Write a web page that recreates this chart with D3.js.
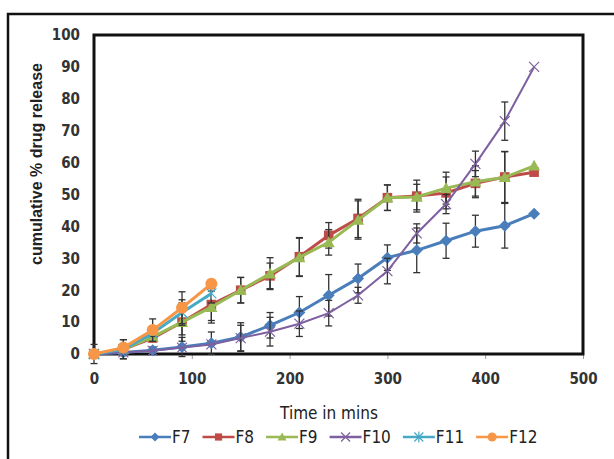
<!DOCTYPE html>
<html><head><meta charset="utf-8">
<script src="https://cdn.jsdelivr.net/npm/d3@7"></script>
<style>body{margin:0;background:#fff}svg{display:block}</style>
</head><body>
<script>
const times = [0,30,60,90,120,150,180,210,240,270,300,330,360,390,420,450];
const f7  = [0,0.5,1.2,2.2,3.4,5.3,9,13,18.4,23.7,30.2,32.5,35.5,38.5,40.2,44];
const f7e = [3,1,1,3,3.5,4.5,4,5,6.5,4.5,4,7,5.5,5,7,0];
const f8  = [0,1.5,5,10,15.5,20,24.5,30.5,37.2,42.5,49,49.5,50.5,53.5,55.5,57];
const f8e = [0,3,1,4,5,4,4,6,4,6,4,5,5,4,8,0];
const f9  = [0,1.5,5.4,10,14.7,20,25.2,30.3,35,42,49,49.2,52,54,55.4,59];
const f9e = [0,3,1,6,5,4,5,6,4,6,4,4,5,5,8,0];
const f10 = [0,0.5,1,2,3,5,7,9.5,12.8,18.4,26,37.8,47,59.6,73,90];
const f10e= [0,0,0,0,0,4,4.5,4,4,2.5,4,3,3,4,6,0];
const f11times = [0,30,60,90,120];
const f11 = [0,1.5,6.5,13,19];
const f11e= [0,1,1,4,3];
const f12 = [0,2,7.5,14.5,22];
const f12e= [0,1,3.5,5,0];
const xTicks = [0,100,200,300,400,500];
const yTicks = [0,10,20,30,40,50,60,70,80,90,100];
const seriesNames = ["F7","F8","F9","F10","F11","F12"];
const seriesColors = ["#4a7ebb","#be4b48","#98b954","#7d60a0","#46aac5","#f79646"];
const seriesMarkers = ["diamond","square","triangle","x","asterisk","circle"];

const series = [
  {name:"F7", t:times, v:f7, e:f7e},
  {name:"F8", t:times, v:f8, e:f8e},
  {name:"F9", t:times, v:f9, e:f9e},
  {name:"F10", t:times, v:f10, e:f10e},
  {name:"F11", t:f11times, v:f11, e:f11e},
  {name:"F12", t:f11times, v:f12, e:f12e}
].map((s,i)=>({...s,color:seriesColors[i],marker:seriesMarkers[i]}));

const W=614,H=459;
const svg=d3.select("body").append("svg").attr("width",W).attr("height",H);
const font='"Liberation Sans Narrow","DejaVu Sans Condensed","Liberation Sans",sans-serif';

// outer frame
svg.append("rect").attr("x",8).attr("y",14).attr("width",620).attr("height",470)
  .attr("fill","none").attr("stroke","#111").attr("stroke-width",2.5);

const x=d3.scaleLinear().domain([0,500]).range([94,583]);
const y=d3.scaleLinear().domain([0,100]).range([354,35]);

// axes
const xa=svg.append("g").attr("transform","translate(0,354)")
  .call(d3.axisBottom(x).tickValues(xTicks).tickSize(5).tickPadding(14));
xa.select(".domain").remove();
xa.selectAll("line").attr("stroke","#999");
xa.selectAll("text").attr("font-family",font).attr("font-size",15).attr("font-weight","bold").attr("fill","#333");

const ya=svg.append("g").attr("transform","translate(94,0)")
  .call(d3.axisLeft(y).tickValues(yTicks).tickSize(0).tickPadding(14));
ya.select(".domain").remove();
ya.selectAll("text").attr("font-family",font).attr("font-size",15).attr("font-weight","bold").attr("fill","#333");

// plot frame
svg.append("rect").attr("x",x(0)).attr("y",y(100)).attr("width",x(500)-x(0)).attr("height",y(0)-y(100))
  .attr("fill","none").attr("stroke","#111").attr("stroke-width",3);

// titles
svg.append("text").attr("x",329).attr("y",419).attr("text-anchor","middle")
  .attr("font-family",font).attr("font-size",17).attr("fill","#222").text("Time in mins");
svg.append("text").attr("transform","translate(42,164) rotate(-90)").attr("text-anchor","middle")
  .attr("font-family",'"Liberation Sans",Arial,sans-serif').attr("font-weight","bold")
  .attr("font-size",16).attr("fill","#222").text("cumulative % drug release");

function marker(g,type,color,size){
  const s=size;
  if(type==="diamond") g.append("path").attr("d",`M0,${-s}L${s},0L0,${s}L${-s},0Z`).attr("fill",color);
  else if(type==="square") g.append("rect").attr("x",-s*0.8).attr("y",-s*0.8).attr("width",s*1.6).attr("height",s*1.6).attr("fill",color);
  else if(type==="triangle") g.append("path").attr("d",`M0,${-s}L${s},${s*0.8}L${-s},${s*0.8}Z`).attr("fill",color);
  else if(type==="circle") g.append("circle").attr("r",s).attr("fill",color);
  else if(type==="x") g.append("path").attr("d",`M${-s},${-s}L${s},${s}M${-s},${s}L${s},${-s}`).attr("stroke",color).attr("stroke-width",1.2);
  else if(type==="asterisk") g.append("path").attr("d",`M${-s},${-s}L${s},${s}M${-s},${s}L${s},${-s}M0,${-s*1.2}L0,${s*1.2}`).attr("stroke",color).attr("stroke-width",1.2);
}

const line=d3.line().x(d=>x(d[0])).y(d=>y(d[1]));
series.forEach(s=>{
  const g=svg.append("g");
  const pts=s.t.map((t,i)=>[t,s.v[i],s.e[i]]);
  g.append("path").datum(pts).attr("d",line).attr("fill","none")
    .attr("stroke",s.color).attr("stroke-width",s.marker==="x"?2:3);
  // error bars
  pts.filter(p=>p[2]>0).forEach(p=>{
    const eb=g.append("g").attr("stroke","#333").attr("stroke-width",1.3);
    eb.append("line").attr("x1",x(p[0])).attr("x2",x(p[0])).attr("y1",y(p[1]-p[2])).attr("y2",y(p[1]+p[2]));
    [p[1]-p[2],p[1]+p[2]].forEach(v=>eb.append("line").attr("x1",x(p[0])-3.5).attr("x2",x(p[0])+3.5).attr("y1",y(v)).attr("y2",y(v)));
  });
  pts.forEach(p=>{
    const m=g.append("g").attr("transform",`translate(${x(p[0])},${y(p[1])})`);
    marker(m,s.marker,s.color,s.marker==="x"||s.marker==="asterisk"?5:6);
  });
});

// legend
let lx=139; const ly=437;
series.forEach(s=>{
  const g=svg.append("g");
  g.append("line").attr("x1",lx).attr("x2",lx+32).attr("y1",ly).attr("y2",ly).attr("stroke",s.color).attr("stroke-width",2.5);
  const m=g.append("g").attr("transform",`translate(${lx+16},${ly})`);
  marker(m,s.marker,s.color,4.5);
  const t=g.append("text").attr("x",lx+33).attr("y",ly+6).attr("font-family",font).attr("font-size",17).attr("fill","#222").text(s.name);
  lx+=33+t.node().getComputedTextLength()+12;
});
</script>
</body></html>
